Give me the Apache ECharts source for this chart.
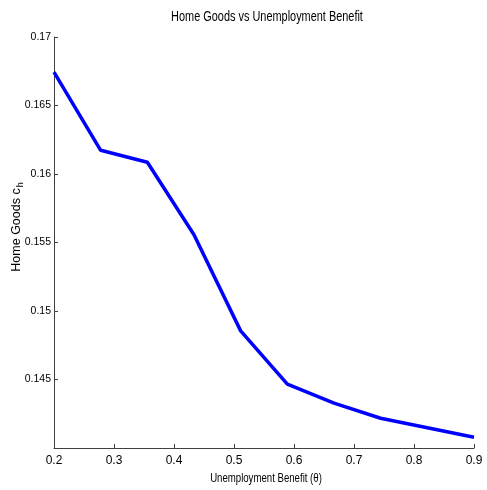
<!DOCTYPE html>
<html>
<head>
<meta charset="utf-8">
<script src="https://cdn.jsdelivr.net/npm/echarts@6/dist/echarts.min.js"></script>
<style>html,body{margin:0;padding:0;background:#fff}#c{width:487px;height:490px}</style>
</head>
<body>
<div id="c"></div>
<script>
var benefit = [0.2, 0.2778, 0.3556, 0.4333, 0.5111, 0.5889, 0.6667, 0.7444, 0.8222, 0.9];
var homeGoods = [0.16743, 0.16173, 0.16086, 0.15557, 0.14855, 0.14466, 0.14327, 0.14217, 0.14148, 0.14078];
var xTicks = [0.2, 0.3, 0.4, 0.5, 0.6, 0.7, 0.8, 0.9];
var yTicks = [0.145, 0.15, 0.155, 0.16, 0.165, 0.17];
var titleText = 'Home Goods vs Unemployment Benefit';
var xName = 'Unemployment Benefit (\u03b8)';

var sans = "'Liberation Sans', Arial, sans-serif";
var chart = echarts.init(document.getElementById('c'));
chart.setOption({
  animation: false,
  grid: {left: 54, right: 13, top: 37, bottom: 42, containLabel: false, outerBoundsMode: 'none'},
  graphic: [
    {type: 'text', x: 267, y: 17, scaleX: 0.78,
      style: {text: titleText, fill: '#000', font: '14px ' + sans,
        textAlign: 'center', textVerticalAlign: 'middle', align: 'center', verticalAlign: 'middle'}},
    {type: 'text', x: 266, y: 478, scaleX: 0.74,
      style: {text: xName, fill: '#000', font: '13px ' + sans,
        textAlign: 'center', textVerticalAlign: 'middle', align: 'center', verticalAlign: 'middle'}},
    {type: 'text', x: 17, y: 227, rotation: Math.PI / 2,
      style: {text: '{a|Home Goods c}{s|h}', fill: '#000',
        textAlign: 'center', textVerticalAlign: 'middle', align: 'center', verticalAlign: 'middle',
        rich: {
          a: {fontFamily: sans, fontSize: 12.5, fill: '#000', color: '#000'},
          s: {fontFamily: sans, fontSize: 9, fill: '#000', color: '#000', padding: [7, 0, 0, 1]}
        }}}
  ],
  xAxis: {
    type: 'value', min: 0.2, max: 0.9, interval: 0.1,
    axisLine: {lineStyle: {color: '#404040', width: 1}},
    axisTick: {inside: true, length: 4, lineStyle: {color: '#404040'}},
    splitLine: {show: false},
    axisLabel: {fontFamily: sans, fontSize: 12, color: '#000', margin: 7,
      formatter: function (v) { return (+v.toFixed(2)).toString(); }}
  },
  yAxis: {
    type: 'value', min: 0.14, max: 0.17, interval: 0.005,
    axisLine: {show: true, lineStyle: {color: '#404040', width: 1}},
    axisTick: {inside: true, length: 4, lineStyle: {color: '#404040'}},
    splitLine: {show: false},
    axisLabel: {fontFamily: sans, fontSize: 10.5, color: '#000', margin: 3,
      formatter: function (v) {
        if (v < 0.1404) return '';
        return (+v.toFixed(3)).toString();
      }}
  },
  series: [{
    type: 'line',
    data: benefit.map(function (x, i) { return [x, homeGoods[i]]; }),
    showSymbol: false,
    lineStyle: {color: '#0000ff', width: 3.5},
    itemStyle: {color: '#0000ff'}
  }]
});
</script>
</body>
</html>
